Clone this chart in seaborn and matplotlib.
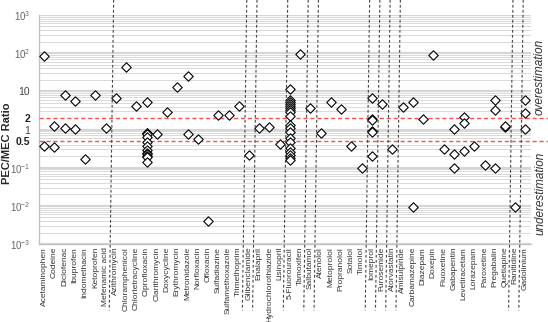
import numpy as np
import pandas as pd
import matplotlib
matplotlib.use("Agg")
import matplotlib.pyplot as plt
import matplotlib.transforms as mtransforms
from matplotlib.ticker import LogLocator, NullFormatter, FixedLocator
import seaborn as sns

# drug names in plotting order
drugs = ['Acetaminophen', 'Codeine', 'Diclofenac', 'Ibuprofen', 'Indomethacin', 'Ketoprofen',
         'Mefenamic acid', 'Azithromycin', 'Chloramphenicol', 'Chlortetracycline', 'Ciprofloxacin',
         'Clarithromycin', 'Doxycycline', 'Erythromycin', 'Metronidazole', 'Norfloxacin', 'Ofloxacin',
         'Sulfadiazine', 'Sulfamethoxazole', 'Trimethoprim', 'Glibenclamide', 'Enalapril',
         'Hydrochlorothiazide', 'Lisinopril', '5-Fluorouracil', 'Tamoxifen', 'Salbutamol', 'Atenolol',
         'Metoprolol', 'Propranolol', 'Sotalol', 'Timolol', 'Iomeprol', 'Furosemide', 'Atorvastatin',
         'Amisulpiride', 'Carbamazepine', 'Diazepam', 'Doxepin', 'Fluoxetine', 'Gabapentin',
         'Levetiracetam', 'Lorazepam', 'Paroxetine', 'Pregabalin', 'Quetiapine', 'Ranitidine',
         'Gadolinium']

# PEC/MEC ratios per drug
ratios = [
    [86, 0.38], [1.24, 0.35], [8.2, 1.12], [5.6, 1.04], [0.166], [8.2], [1.12],
    [6.7], [44], [4.2],
    [5.4, 0.82, 0.80, 0.78, 0.63, 0.48, 0.38, 0.29, 0.24, 0.23, 0.2, 0.19, 0.145],
    [0.75], [2.8], [13.3], [25.8, 0.78], [0.58], [0.0041], [2.37], [2.4], [4.2],
    [0.21], [1.08], [1.17], [0.41],
    [11.6, 5.96, 5.3, 4.7, 4.2, 3.7, 3.3, 2.9, 2.2, 1.32, 1.1, 0.88, 0.59, 0.48, 0.32,
     0.26, 0.22, 0.18, 0.16],
    [95], [3.7], [0.83], [5.4], [3.4], [0.38], [0.097],
    [6.8, 1.9, 1.8, 0.92, 0.88, 0.2], [4.7], [0.30],
    [3.9], [5.4, 0.0096], [1.93], [90], [0.31], [1.04, 0.225, 0.097], [2.18, 1.46, 0.27],
    [0.38], [0.116], [5.96, 3.3, 0.097], [1.19, 1.22], [0.0096], [5.96, 2.7, 1.04],
]

# group separators (after these drugs)
group_ends = ['Mefenamic acid', 'Trimethoprim', 'Glibenclamide', 'Lisinopril', 'Tamoxifen',
              'Salbutamol', 'Timolol', 'Iomeprol', 'Furosemide', 'Atorvastatin', 'Quetiapine',
              'Ranitidine']

ytick_vals = [1e3, 1e2, 10, 2, 1, 0.5, 0.1, 0.01, 0.001]
ytick_labels = [r'$10^{3}$', r'$10^{2}$', '10', '2', '1', '0.5', r'$10^{-1}$', r'$10^{-2}$', r'$10^{-3}$']
thresholds = [2, 0.5]

rows = [(d, v) for d, vals in zip(drugs, ratios) for v in vals]
df = pd.DataFrame(rows, columns=['Drug', 'Ratio'])

sns.set_style("white")
plt.rcParams['font.family'] = ['Liberation Sans', 'DejaVu Sans']
plt.rcParams['mathtext.fontset'] = 'custom'
plt.rcParams['mathtext.rm'] = 'Liberation Sans'
plt.rcParams['mathtext.it'] = 'Liberation Sans:italic'

fig = plt.figure(figsize=(5.48, 3.22), dpi=100)
ax = fig.add_axes([38.6 / 548, (322 - 244) / 322, 492 / 548, 229 / 322])

sns.stripplot(data=df, x='Drug', y='Ratio', order=drugs, jitter=False, marker='D',
              color='white', edgecolor='black', linewidth=0.8, size=4.8, ax=ax, zorder=4)

ax.set_yscale('log')
ax.set_ylim(1e-3, 1e3)
ax.set_xlim(-0.55, len(drugs) - 0.5)

# gridlines
ax.yaxis.set_minor_locator(LogLocator(base=10, subs=np.arange(2, 10)))
ax.yaxis.set_minor_formatter(NullFormatter())
ax.grid(axis='y', which='minor', color='#d9d9d9', lw=0.7, zorder=0)
for k in range(-3, 4):
    ax.axhline(10.0 ** k, color='#d6d6d6', lw=1.6, zorder=0)
ax.set_axisbelow(True)

# y ticks
ax.yaxis.set_major_locator(FixedLocator(ytick_vals))
ax.set_yticklabels(ytick_labels)
ax.tick_params(axis='y', which='both', length=0, pad=6)
for lab, v in zip(ax.get_yticklabels(), ytick_vals):
    if v in thresholds:
        lab.set_fontweight('bold')
        lab.set_fontsize(7.5)
        lab.set_color('#222222')
    elif v in (10, 1):
        lab.set_fontsize(7.5)
        lab.set_color('#444444')
    else:
        lab.set_fontsize(7)
        lab.set_color('#666666')

# x ticks
ax.set_xticks(range(len(drugs)))
ax.set_xticklabels(drugs, rotation=90, fontsize=6.0, color='#333333')
ax.set_xticks(np.arange(-0.5, len(drugs), 1.0), minor=True)
ax.tick_params(axis='x', which='major', length=0, pad=2)
ax.tick_params(axis='x', which='minor', length=3, color='#bfbfbf', width=0.8)
ax.set_xlabel('')

ax.set_ylabel('PEC/MEC Ratio', fontsize=8, fontweight='bold')
ax.yaxis.set_label_coords(-0.055, 0.44)

for s in ['top', 'right']:
    ax.spines[s].set_visible(False)
for s in ['left', 'bottom']:
    ax.spines[s].set_color('#bfbfbf')
    ax.spines[s].set_linewidth(0.9)

# threshold lines (run to the right edge of the figure)
for t in thresholds:
    ax.plot([-0.55, 49.5], [t, t], color='#ff5050', lw=1.0, ls=(0, (3, 2)),
            clip_on=False, zorder=3)

# group separators, running from top of figure down through the labels
trans = mtransforms.blended_transform_factory(ax.transData, ax.transAxes)
for name in group_ends:
    b = drugs.index(name) + 0.5
    ax.plot([b + 0.28, b - 0.15], [1.066, -0.29], color='#444444', lw=0.8,
            ls=(0, (2.5, 2)), transform=trans, clip_on=False, zorder=5)

fig.text(540 / 548, 1 - 77 / 322, 'overestimation', rotation=90, style='italic',
         fontsize=8.5, color='#333333', ha='center', va='center')
fig.text(540 / 548, 1 - 193 / 322, 'underestimation', rotation=90, style='italic',
         fontsize=8.5, color='#333333', ha='center', va='center')

fig.savefig('out.png', dpi=100)
